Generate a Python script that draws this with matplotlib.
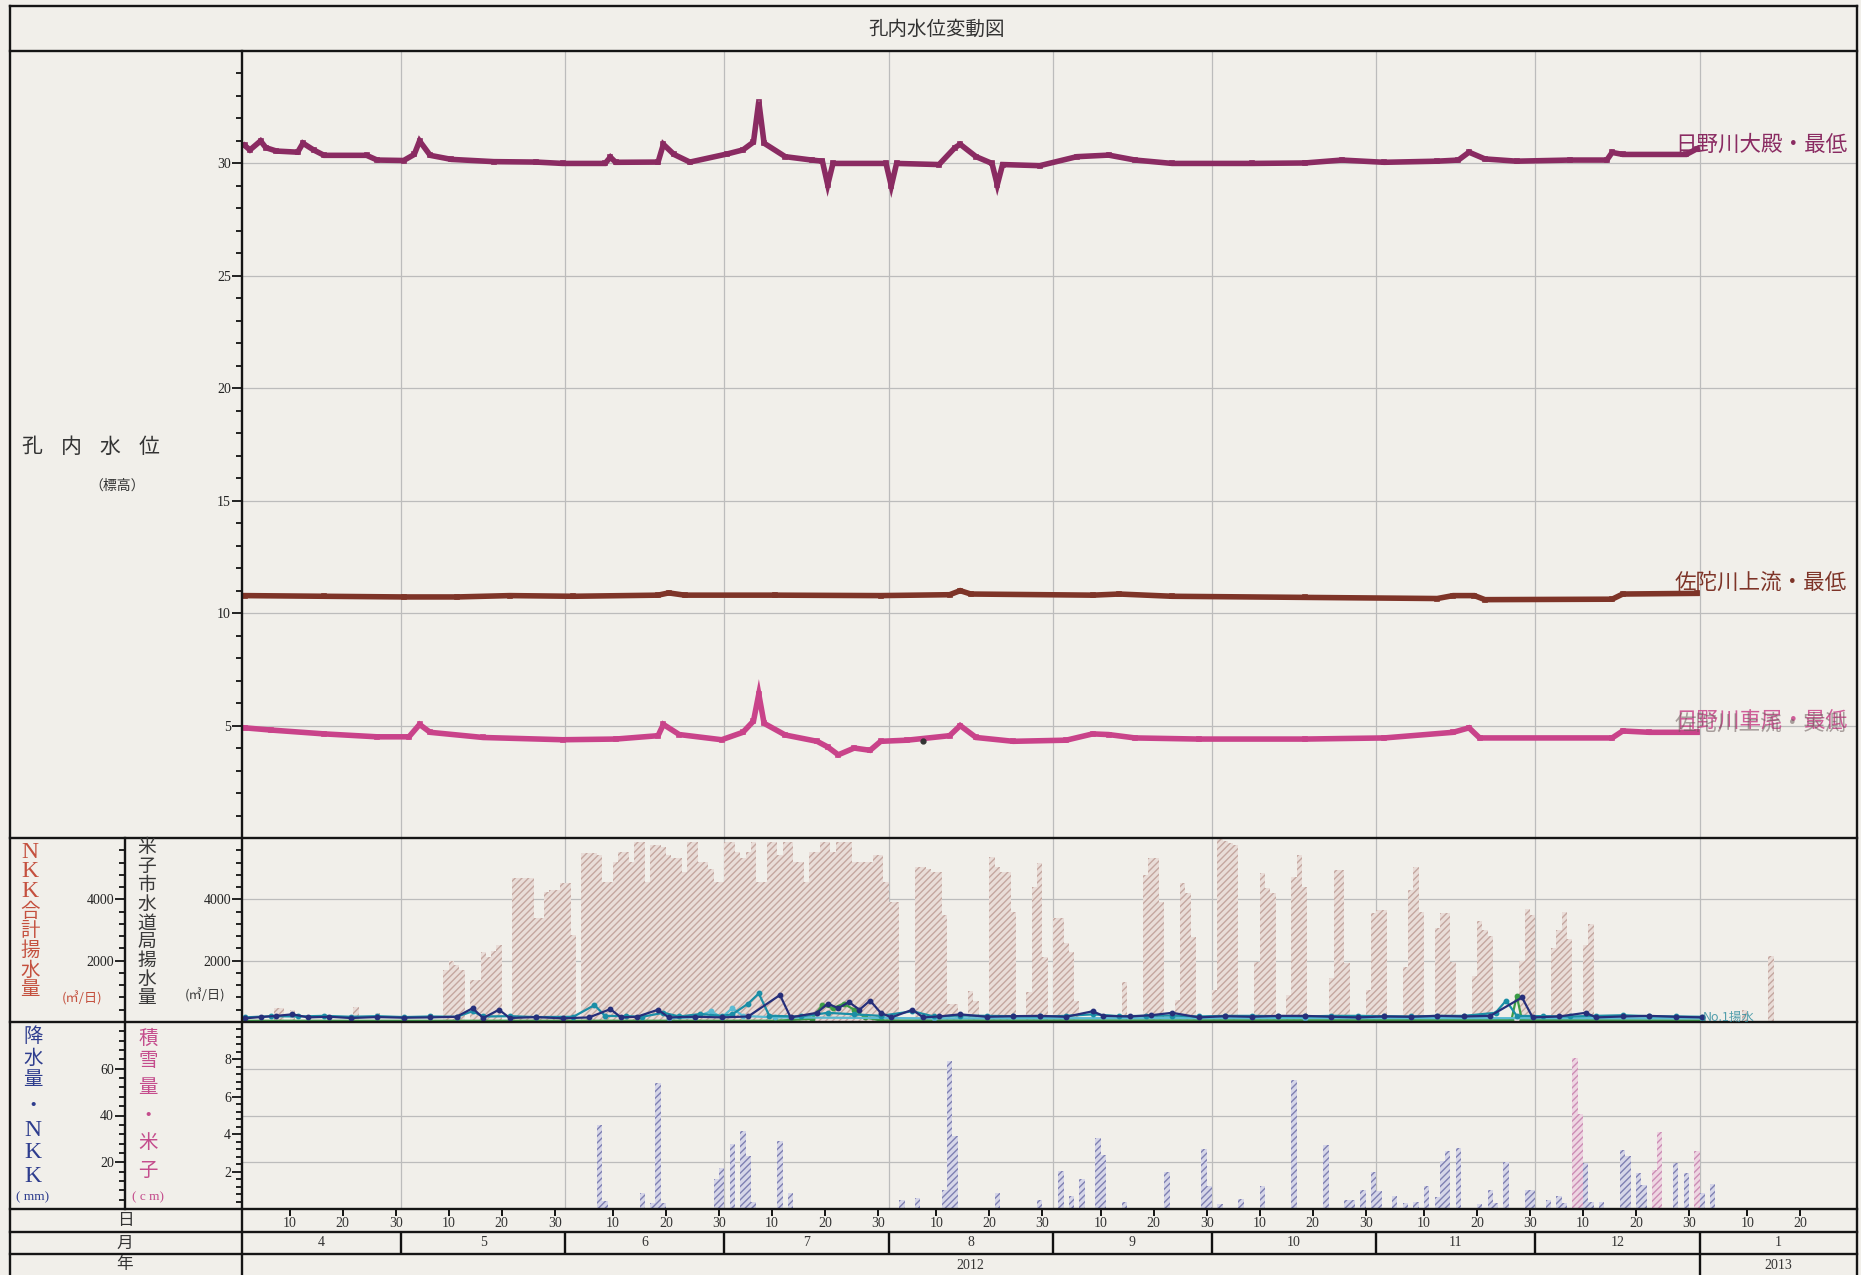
import numpy as np
import matplotlib
matplotlib.use("Agg")
import matplotlib.pyplot as plt
from matplotlib.ticker import FixedLocator

plt.rcParams['hatch.linewidth'] = 1.0

# ---------------- data ----------------
month_labels = ["4", "5", "6", "7", "8", "9", "10", "11", "12", "1"]
month_lengths = [30, 31, 30, 31, 31, 30, 31, 30, 31, 31]
year_labels = ["2012", "2013"]
day_labels = ["10", "20", "30"]

# water levels (day index 0 = 2012-04-01, value m)
hino_oodono = [(0, 30.8), (1, 30.6), (3, 31.0), (4, 30.7), (6, 30.55), (10, 30.5), (11, 30.9),
               (13, 30.6), (15, 30.36), (23, 30.36), (25, 30.15), (30, 30.13), (32, 30.4),
               (33, 31.0), (35, 30.36), (39, 30.18), (47, 30.08), (55, 30.06), (60, 30.0),
               (68, 30.0), (69, 30.28), (70, 30.05), (78, 30.06), (79, 30.85), (81, 30.4),
               (84, 30.06), (91, 30.42), (94, 30.6), (96, 30.95), (97, 32.75), (98, 30.9),
               (102, 30.3), (107, 30.15), (109, 30.1), (110, 29.05), (111, 30.0), (121, 30.0),
               (122, 29.0), (123, 30.0), (131, 29.95), (134, 30.7), (135, 30.85), (138, 30.3),
               (141, 30.0), (142, 29.05), (143, 29.95), (150, 29.9), (157, 30.3), (163, 30.37),
               (168, 30.15), (175, 30.0), (190, 30.0), (200, 30.02), (207, 30.15), (215, 30.05),
               (225, 30.1), (229, 30.15), (231, 30.5), (234, 30.2), (240, 30.1), (250, 30.15),
               (257, 30.15), (258, 30.49), (260, 30.4), (272, 30.4), (274, 30.65)]
sada_joryu = [(0, 10.78), (15, 10.75), (30, 10.72), (40, 10.72), (50, 10.78), (62, 10.75),
              (78, 10.8), (80, 10.9), (83, 10.8), (100, 10.8), (120, 10.78), (133, 10.82),
              (135, 11.0), (137, 10.85), (160, 10.8), (165, 10.85), (175, 10.75), (200, 10.7),
              (225, 10.65), (228, 10.78), (232, 10.78), (234, 10.6), (258, 10.62), (260, 10.85),
              (274, 10.88)]
hino_kuzumo = [(0, 4.9), (5, 4.8), (15, 4.63), (25, 4.5), (31, 4.5), (33, 5.05), (35, 4.7),
               (45, 4.47), (60, 4.37), (70, 4.4), (78, 4.55), (79, 5.05), (82, 4.6), (90, 4.37),
               (94, 4.7), (96, 5.2), (97, 6.4), (98, 5.1), (102, 4.58), (108, 4.3), (110, 4.05),
               (112, 3.7), (115, 4.0), (118, 3.9), (120, 4.3), (125, 4.35), (133, 4.55),
               (135, 5.0), (138, 4.47), (145, 4.3), (155, 4.35), (160, 4.63), (163, 4.6),
               (168, 4.45), (180, 4.4), (200, 4.4), (215, 4.45), (228, 4.7), (231, 4.9),
               (233, 4.45), (258, 4.45), (260, 4.76), (265, 4.7), (274, 4.7)]
sada_jissoku = [(128, 4.3)]

# NKK total pumping (m3/day), start day -> consecutive daily values
nkk_segments = {
    6: [450, 450], 9: [400], 21: [500], 25: [300], 35: [250],
    38: [1700, 2000, 1850, 1700],
    43: [1370, 1370, 2290, 2130, 2300, 2510],
    51: [4700, 4700, 4700, 4700, 3400, 3400, 4250, 4300, 4300, 4520, 4520, 2840],
    64: [5500, 5500, 5500, 5450, 4580, 4580, 5230, 5550, 5550, 5230, 5880, 5880, 4580, 5770,
         5770, 5700, 5450, 5340, 5340, 4900, 5880, 5880, 5230, 5230, 5000, 4580, 4580, 5880,
         5880, 5550, 5340, 5550, 5880, 4580, 4580, 5880, 5880, 5450, 5880, 5880, 5230, 5230,
         4580, 5550, 5550, 5880, 5880, 5550, 5880, 5880, 5880, 5230, 5230, 5230, 5230, 5450,
         5450, 4580, 3920, 3920],
    127: [5060, 5070, 5000, 4900, 4900, 3500, 600, 600],
    137: [1000, 700],
    141: [5390, 5070, 4900, 4900, 3600],
    148: [990, 4410, 5170, 2130],
    153: [3380, 3380, 2560, 2290, 700],
    166: [1315],
    170: [4790, 5340, 5340, 3920],
    176: [720, 4520, 4200, 2780],
    183: [1040, 5990, 5900, 5830, 5770],
    191: [1970, 4850, 4360, 4200],
    197: [880, 4740, 5450, 4410],
    205: [1420, 4960, 4960, 1910],
    212: [1040, 3540, 3650, 3650],
    219: [1800, 4300, 5070, 3600],
    225: [3050, 3540, 3540, 1970],
    232: [1500, 3300, 3000, 2800],
    241: [2000, 3700, 3500],
    247: [2400, 3000, 3600, 2700],
    253: [2500, 3200],
    283: [400],
    288: [2150],
}

# Yonago waterworks pumping (m3/day), (day, value)
yonago_navy = [(0, 120), (3, 160), (6, 200), (9, 250), (12, 150), (16, 170), (20, 130),
               (25, 160), (30, 140), (35, 150), (40, 170), (43, 450), (45, 130), (48, 400),
               (50, 130), (55, 160), (60, 120), (65, 150), (69, 420), (71, 150), (74, 170),
               (78, 400), (80, 150), (85, 170), (90, 150), (95, 180), (101, 880), (103, 150),
               (108, 300), (110, 600), (112, 450), (114, 650), (116, 400), (118, 700), (120, 300),
               (122, 150), (126, 400), (128, 150), (131, 180), (135, 250), (140, 170), (145, 190),
               (150, 200), (155, 170), (160, 350), (162, 200), (167, 180), (171, 220), (175, 300),
               (180, 150), (185, 190), (190, 170), (195, 200), (200, 200), (205, 170), (210, 150),
               (215, 180), (220, 170), (225, 200), (230, 180), (235, 200), (241, 800), (243, 150),
               (248, 180), (253, 300), (255, 150), (260, 180), (265, 200), (270, 170), (275, 150)]
yonago_teal = [(0, 150), (5, 190), (10, 180), (15, 200), (20, 170), (25, 190), (30, 160),
               (35, 180), (40, 170), (43, 350), (45, 180), (50, 190), (55, 160), (62, 170),
               (66, 550), (68, 200), (72, 190), (75, 170), (79, 300), (82, 180), (86, 260),
               (90, 200), (92, 250), (95, 600), (97, 930), (99, 200), (105, 180), (110, 300),
               (115, 250), (120, 200), (126, 350), (130, 180), (135, 210), (140, 200), (145, 190),
               (150, 180), (155, 200), (160, 250), (165, 190), (170, 200), (175, 210), (180, 180),
               (185, 200), (190, 200), (195, 190), (200, 180), (205, 200), (210, 200), (215, 190),
               (220, 180), (225, 200), (230, 200), (236, 300), (238, 700), (240, 200), (245, 190),
               (250, 180), (255, 200), (260, 220), (265, 190), (270, 180), (275, 170)]
yonago_cyan = [(80, 120), (85, 150), (88, 350), (90, 150), (92, 450), (94, 200), (100, 150),
               (130, 120), (200, 130), (275, 120)]
yonago_green = [(0, 40), (100, 40), (107, 100), (109, 550), (111, 450), (113, 600), (115, 400),
                (117, 150), (120, 50), (239, 60), (240, 850), (241, 60), (275, 50)]

# precipitation (mm) and snow depth (cm): day -> value
precip = {67: 36, 68: 3.5, 75: 6.8, 77: 2.5, 78: 54, 79: 2.5, 89: 12.8, 90: 17.6, 92: 27.9,
          94: 33.2, 95: 22.6, 96: 2.8, 101: 29, 103: 6.8, 124: 4, 127: 4.7, 132: 8, 133: 63.4,
          134: 31.2, 142: 7, 150: 4, 154: 16.4, 156: 5.4, 158: 13, 161: 30.5, 162: 23.3,
          166: 2.8, 174: 15.7, 181: 25.7, 182: 9.7, 184: 2.2, 188: 4.2, 192: 9.7, 198: 55,
          204: 27.3, 208: 4, 209: 4, 211: 8.2, 213: 15.7, 214: 7.5, 217: 5.4, 219: 2.5,
          221: 3.2, 223: 10, 225: 5, 226: 20.4, 227: 24.7, 229: 26.2, 233: 2, 235: 8.3,
          236: 2.5, 238: 20.2, 242: 8, 243: 8.3, 246: 4, 248: 5.7, 249: 2.5, 252: 12.5,
          253: 19.7, 254: 2.8, 256: 3.2, 260: 25.4, 261: 22.6, 263: 15.4, 264: 10.4,
          270: 19.7, 272: 15.4, 275: 6.8, 277: 10.7}
snow = {251: 8.1, 252: 5.1, 266: 2.1, 267: 4.1, 274: 3.1}

# ---------------- layout ----------------
W, H = 1861, 1275
fig = plt.figure(figsize=(W / 100, H / 100), dpi=100)
BG = '#f1efea'
fig.patch.set_facecolor(BG)

L0, R0, T0 = 10, 1857, 6
COL1, AXL = 125, 242
Y1, Y2, Y3, Y4, Y5, Y6 = 51, 838, 1022, 1209, 1232, 1254
XMAX = 304.7
CJK = ['Noto Sans CJK JP', 'DejaVu Sans']
NUMF = 'Liberation Serif'
GRID = '#bcbcbc'

month_starts = np.concatenate([[0], np.cumsum(month_lengths)])


def add_ax(x0, y0, x1, y1, **kw):
    ax = fig.add_axes([x0 / W, 1 - y1 / H, (x1 - x0) / W, (y1 - y0) / H], **kw)
    ax.set_facecolor('none')
    for s in ax.spines.values():
        s.set_visible(False)
    return ax


def style_y(ax, majors, minors, lim):
    ax.set_ylim(*lim)
    ax.yaxis.set_major_locator(FixedLocator(majors))
    ax.yaxis.set_minor_locator(FixedLocator(minors))
    ax.tick_params(axis='y', which='major', direction='out', length=7, width=1.4,
                   labelsize=10, pad=1, colors='#222222')
    ax.tick_params(axis='y', which='minor', direction='out', length=4, width=1.2)
    for lab in ax.get_yticklabels():
        lab.set_fontfamily(NUMF)


def month_grid(ax):
    for b in month_starts[1:-1]:
        ax.axvline(b, color=GRID, lw=0.9, zorder=0)


def knots(pairs):
    d = np.array([p[0] for p in pairs], dtype=float) + 0.5
    v = np.array([p[1] for p in pairs], dtype=float)
    return d, v


def daily(segments, n=306):
    arr = np.zeros(n)
    for s, vals in segments.items():
        arr[s:s + len(vals)] = vals
    return arr

# ---- top panel: water levels ----
ax_top = add_ax(AXL, Y1, R0, Y2)
ax_top.set_xlim(0, XMAX)
style_y(ax_top, [5, 10, 15, 20, 25, 30], list(range(0, 36)), (0, 35))
ax_top.set_xticks([])
month_grid(ax_top)
for h in [5, 10, 15, 20, 25, 30]:
    ax_top.axhline(h, color=GRID, lw=0.9, zorder=0)

for pairs, col in [(hino_oodono, '#8a2b62'), (sada_joryu, '#7e3428'), (hino_kuzumo, '#c9438a')]:
    d, v = knots(pairs)
    ax_top.plot(d, v, color=col, lw=4.0, solid_joinstyle='miter', zorder=3)
    ax_top.plot(d, v, ls='none', marker='s', ms=3.5, mfc='none', mec=col, mew=1.2, zorder=3)
d, v = knots(sada_jissoku)
ax_top.plot(d, v, ls='none', marker='o', ms=3.5, color='#333333', zorder=4)

# ---- middle panel: pumping ----
ax_mid = add_ax(AXL, Y2, R0, Y3)
ax_mid.set_xlim(0, XMAX)
style_y(ax_mid, [2000, 4000], list(np.arange(0, 6001, 400)), (0, 6000))
ax_mid.set_xticks([])
month_grid(ax_mid)
for h in [2000, 4000]:
    ax_mid.axhline(h, color=GRID, lw=0.9, zorder=0)
nkk = daily(nkk_segments)
days = np.arange(len(nkk))
ax_mid.bar(days + 0.5, nkk, width=1.0, color='#e9ddd8', edgecolor='#c4a7a0',
           hatch='/////', lw=0, zorder=1)
for pairs, col in [(yonago_green, '#3c9c46'), (yonago_cyan, '#5bbad2'),
                   (yonago_teal, '#1b8ea6'), (yonago_navy, '#262f7a')]:
    d, v = knots(pairs)
    ax_mid.plot(d, v, color=col, lw=1.6, marker='o', ms=3.2, zorder=3)

ax_mid_out = add_ax(COL1, Y2, AXL, Y3)
style_y(ax_mid_out, [2000, 4000], list(np.arange(0, 6001, 400)), (0, 6000))
ax_mid_out.set_xticks([])

# ---- bottom panel: precipitation / snow ----
ax_bot = add_ax(AXL, Y3, R0, Y4)
ax_bot.set_xlim(0, XMAX)
ax_bot.set_ylim(0, 80)
ax_bot.set_yticks([])
ax_bot.set_xticks([])
month_grid(ax_bot)
for h in [20, 40, 60]:
    ax_bot.axhline(h, color=GRID, lw=0.9, zorder=0)
pd_ = np.array(sorted(precip))
ax_bot.bar(pd_ + 0.5, [precip[k] for k in pd_], width=1.0, color='#d6d6e8',
           edgecolor='#7f80b2', hatch='/////', lw=0, zorder=1)

ax_snow = ax_bot.twinx()
ax_snow.set_facecolor('none')
for s in ax_snow.spines.values():
    s.set_visible(False)
ax_snow.yaxis.tick_left()
style_y(ax_snow, [2, 4, 6, 8], list(np.arange(0, 10.01, 0.4)), (0, 10))
ax_snow.set_xlim(0, XMAX)
sd = np.array(sorted(snow))
ax_snow.bar(sd + 0.5, [snow[k] for k in sd], width=1.0, color='#eed4e2',
            edgecolor='#c986b0', hatch='/////', lw=0, zorder=2, alpha=0.9)

ax_bot_out = add_ax(COL1, Y3, AXL, Y4)
style_y(ax_bot_out, [20, 40, 60], list(np.arange(0, 81, 4)), (0, 80))
ax_bot_out.set_xticks([])

# ---- date rows ----
ax_day = add_ax(AXL, Y4, R0, Y5)
ax_day.set_xlim(0, XMAX)
ax_day.set_ylim(0, 1)
ax_day.set_yticks([])
tpos, tlab = [], []
for ms, ml in zip(month_starts[:-1], month_lengths):
    for lab in day_labels:
        dd = int(lab)
        if dd <= ml and ms + dd - 1 < XMAX - 2:
            tpos.append(ms + dd - 1)
            tlab.append(lab)
ax_day.set_xticks(tpos)
ax_day.tick_params(axis='x', top=True, bottom=False, direction='in', length=5, width=1.3,
                   labeltop=False, labelbottom=False)
for p, lab in zip(tpos, tlab):
    ax_day.text(p, 0.38, lab, ha='center', va='center', fontsize=10, fontfamily=NUMF,
                color='#333333')

ax_mon = add_ax(AXL, Y5, R0, Y6)
ax_mon.set_xlim(0, XMAX)
ax_mon.set_ylim(0, 1)
ax_mon.set_xticks([])
ax_mon.set_yticks([])
for i, lab in enumerate(month_labels):
    a = month_starts[i]
    b = min(month_starts[i + 1], XMAX)
    if i > 0:
        ax_mon.axvline(a, color='#111111', lw=1.7)
    ax_mon.text((a + b) / 2, 0.5, lab, ha='center', va='center', fontsize=10,
                fontfamily=NUMF, color='#333333')

ax_yr = add_ax(AXL, Y6, R0, H)
ax_yr.set_xlim(0, XMAX)
ax_yr.set_ylim(0, 1)
ax_yr.set_xticks([])
ax_yr.set_yticks([])
jan = month_starts[9]
ax_yr.axvline(jan, color='#111111', lw=1.7)
ax_yr.text(jan / 2, 0.45, year_labels[0], ha='center', va='center', fontsize=10,
           fontfamily=NUMF, color='#333333')
ax_yr.text((jan + XMAX) / 2, 0.45, year_labels[1], ha='center', va='center', fontsize=10,
           fontfamily=NUMF, color='#333333')

# ---- overlay: frame lines and labels (pixel coordinates) ----
ov = fig.add_axes([0, 0, 1, 1], zorder=10)
ov.set_xlim(0, W)
ov.set_ylim(H, 0)
ov.axis('off')
ov.patch.set_visible(False)
LW = 1.7
K = '#151515'
ov.plot([L0, L0], [T0, H], color=K, lw=LW)
ov.plot([R0, R0], [T0, H], color=K, lw=LW)
ov.plot([L0, R0], [T0, T0], color=K, lw=LW)
for y in [Y1, Y2, Y3, Y4, Y5, Y6]:
    ov.plot([L0, R0], [y, y], color=K, lw=LW)
ov.plot([AXL, AXL], [Y1, H], color=K, lw=LW)
ov.plot([COL1, COL1], [Y2, Y4], color=K, lw=LW)

ov.text(937, 29, '孔内水位変動図', ha='center', va='center', fontsize=14, family=CJK,
        color='#333333')

for x, c in zip([32, 71, 110, 149], '孔内水位'):
    ov.text(x, 447, c, ha='center', va='center', fontsize=15, family=CJK, color='#333333')
ov.text(117, 486, '（標高）', ha='center', va='center', fontsize=10, family=CJK,
        color='#333333')

ov.text(1847, 145, '日野川大殿・最低', ha='right', va='center', fontsize=15.5, family=CJK,
        color='#8a2b62')
ov.text(1847, 583, '佐陀川上流・最低', ha='right', va='center', fontsize=15.5, family=CJK,
        color='#7e3428')
ov.text(1847, 722, '日野川車尾・最低', ha='right', va='center', fontsize=15.5, family=CJK,
        color='#c9438a', alpha=0.85)
ov.text(1847, 724, '佐陀川上流・実測', ha='right', va='center', fontsize=15.5, family=CJK,
        color='#6a5a5a', alpha=0.55)
ov.text(1703, 1017, 'No.1揚水', ha='left', va='center', fontsize=9, family=CJK,
        color='#2a8a9c', alpha=0.8)


def vtext(x, ys, chars, color, size=14):
    for y, c in zip(ys, chars):
        if c in 'NK':
            ov.text(x, y, c, ha='center', va='center', fontsize=size + 3, fontfamily=NUMF,
                    color=color)
        else:
            ov.text(x, y, c, ha='center', va='center', fontsize=size, family=CJK, color=color)


RED = '#c4503e'
vtext(30, np.linspace(852, 990, 8), 'NKK合計揚水量', RED)
ov.text(82, 998, '(㎥/日)', ha='center', va='center', fontsize=9.5, family=CJK, color=RED)
DK = '#3a3a3a'
vtext(147, np.linspace(848, 998, 9), '米子市水道局揚水量', DK, size=13.5)
ov.text(205, 995, '(㎥/日)', ha='center', va='center', fontsize=9.5, family=CJK, color=DK)
BLU = '#2e3d8e'
vtext(33, [1037, 1058, 1080, 1106, 1130, 1152, 1177], '降水量・NKK', BLU)
ov.text(33, 1197, '( mm)', ha='center', va='center', fontsize=9.5, fontfamily=NUMF, color=BLU)
PNK = '#c44c8c'
vtext(148, [1038, 1060, 1087, 1116, 1142, 1170], '積雪量・米子', PNK)
ov.text(148, 1197, '( c m)', ha='center', va='center', fontsize=9.5, fontfamily=NUMF,
        color=PNK)

for y, c in [(1220, '日'), (1243, '月'), (1265, '年')]:
    ov.text(COL1, y, c, ha='center', va='center', fontsize=12, family=CJK, color='#333333')

fig.savefig('out.png', dpi=100, facecolor=BG)
